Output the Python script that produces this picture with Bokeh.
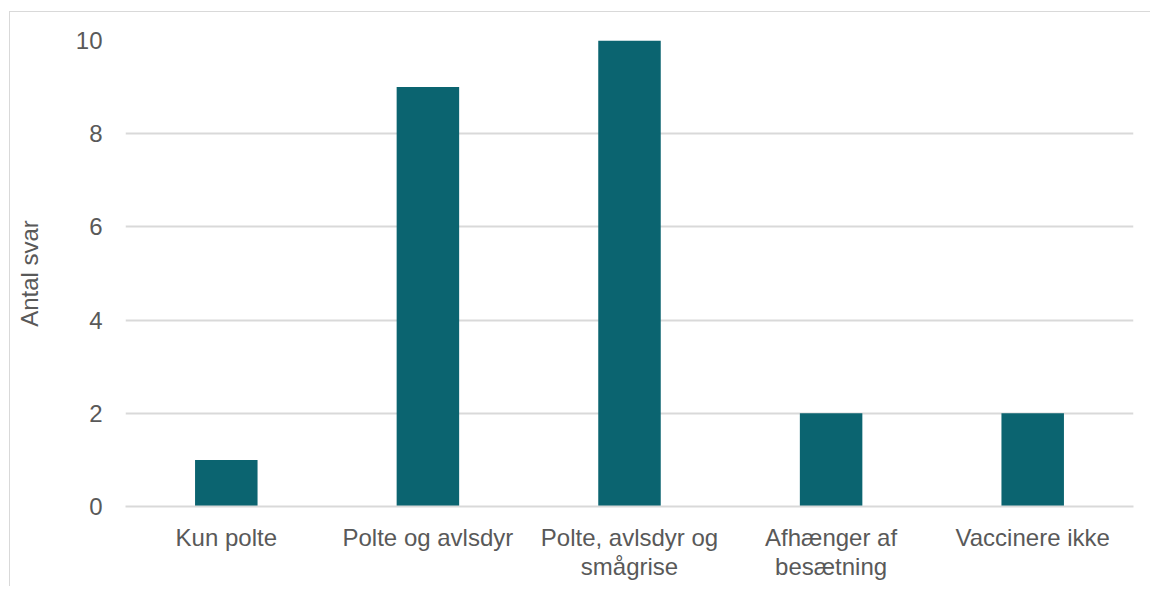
from bokeh.plotting import figure
from bokeh.models import FixedTicker, Range1d, ColumnDataSource
from bokeh.embed import file_html
from bokeh.resources import INLINE

# Survey answers per vaccination strategy
categories = [
    "Kun polte",
    "Polte og avlsdyr",
    "Polte, avlsdyr og\nsmågrise",
    "Afhænger af\nbesætning",
    "Vaccinere ikke",
]
answers = [1, 9, 10, 2, 2]
y_ticks = [0, 2, 4, 6, 8, 10]

positions = [i + 0.5 for i in range(len(categories))]
source = ColumnDataSource(data=dict(x=positions, top=answers))

TEXT = "#595959"
GRID = "#d9d9d9"
FONT = "Liberation Sans"
SIZE = "24px"

p = figure(
    width=1141,
    height=575,
    output_backend="svg",
    toolbar_location=None,
    x_range=Range1d(0, len(categories)),
    y_range=Range1d(0, 10),
    min_border_left=115,
    min_border_right=18,
    min_border_top=28,
    min_border_bottom=81,
)
p.styles = {
    "margin-left": "9px",
    "margin-top": "11px",
    "border-left": f"1px solid {GRID}",
    "border-top": f"1px solid {GRID}",
}

p.vbar(x="x", top="top", width=0.31, bottom=0, source=source,
       fill_color="#0B6470", line_color=None)

p.outline_line_color = None
p.background_fill_color = "white"
p.border_fill_color = "white"

# x axis: category labels under each bar
p.xaxis.ticker = FixedTicker(ticks=positions)
p.xaxis.major_label_overrides = {pos: lab for pos, lab in zip(positions, categories)}
p.xaxis.axis_line_color = GRID
p.xaxis.axis_line_width = 2
p.xaxis.major_tick_line_color = None
p.xaxis.minor_tick_line_color = None
p.xaxis.major_label_standoff = 11
p.xaxis.major_label_text_font = FONT
p.xaxis.major_label_text_font_size = SIZE
p.xaxis.major_label_text_line_height = 1.1
p.xaxis.major_label_text_color = TEXT
p.xgrid.grid_line_color = None

# y axis: counts
p.yaxis.ticker = FixedTicker(ticks=y_ticks)
p.yaxis.axis_line_color = None
p.yaxis.major_tick_line_color = None
p.yaxis.minor_tick_line_color = None
p.yaxis.major_label_standoff = 17
p.yaxis.major_label_text_font = FONT
p.yaxis.major_label_text_font_size = SIZE
p.yaxis.major_label_text_color = TEXT
p.yaxis.axis_label = "Antal svar"
p.yaxis.axis_label_text_font = FONT
p.yaxis.axis_label_text_font_size = SIZE
p.yaxis.axis_label_text_font_style = "normal"
p.yaxis.axis_label_text_color = TEXT
p.yaxis.axis_label_standoff = 30
p.ygrid.grid_line_color = GRID
p.ygrid.grid_line_width = 2

open("out.html", "w").write(file_html(p, INLINE))
